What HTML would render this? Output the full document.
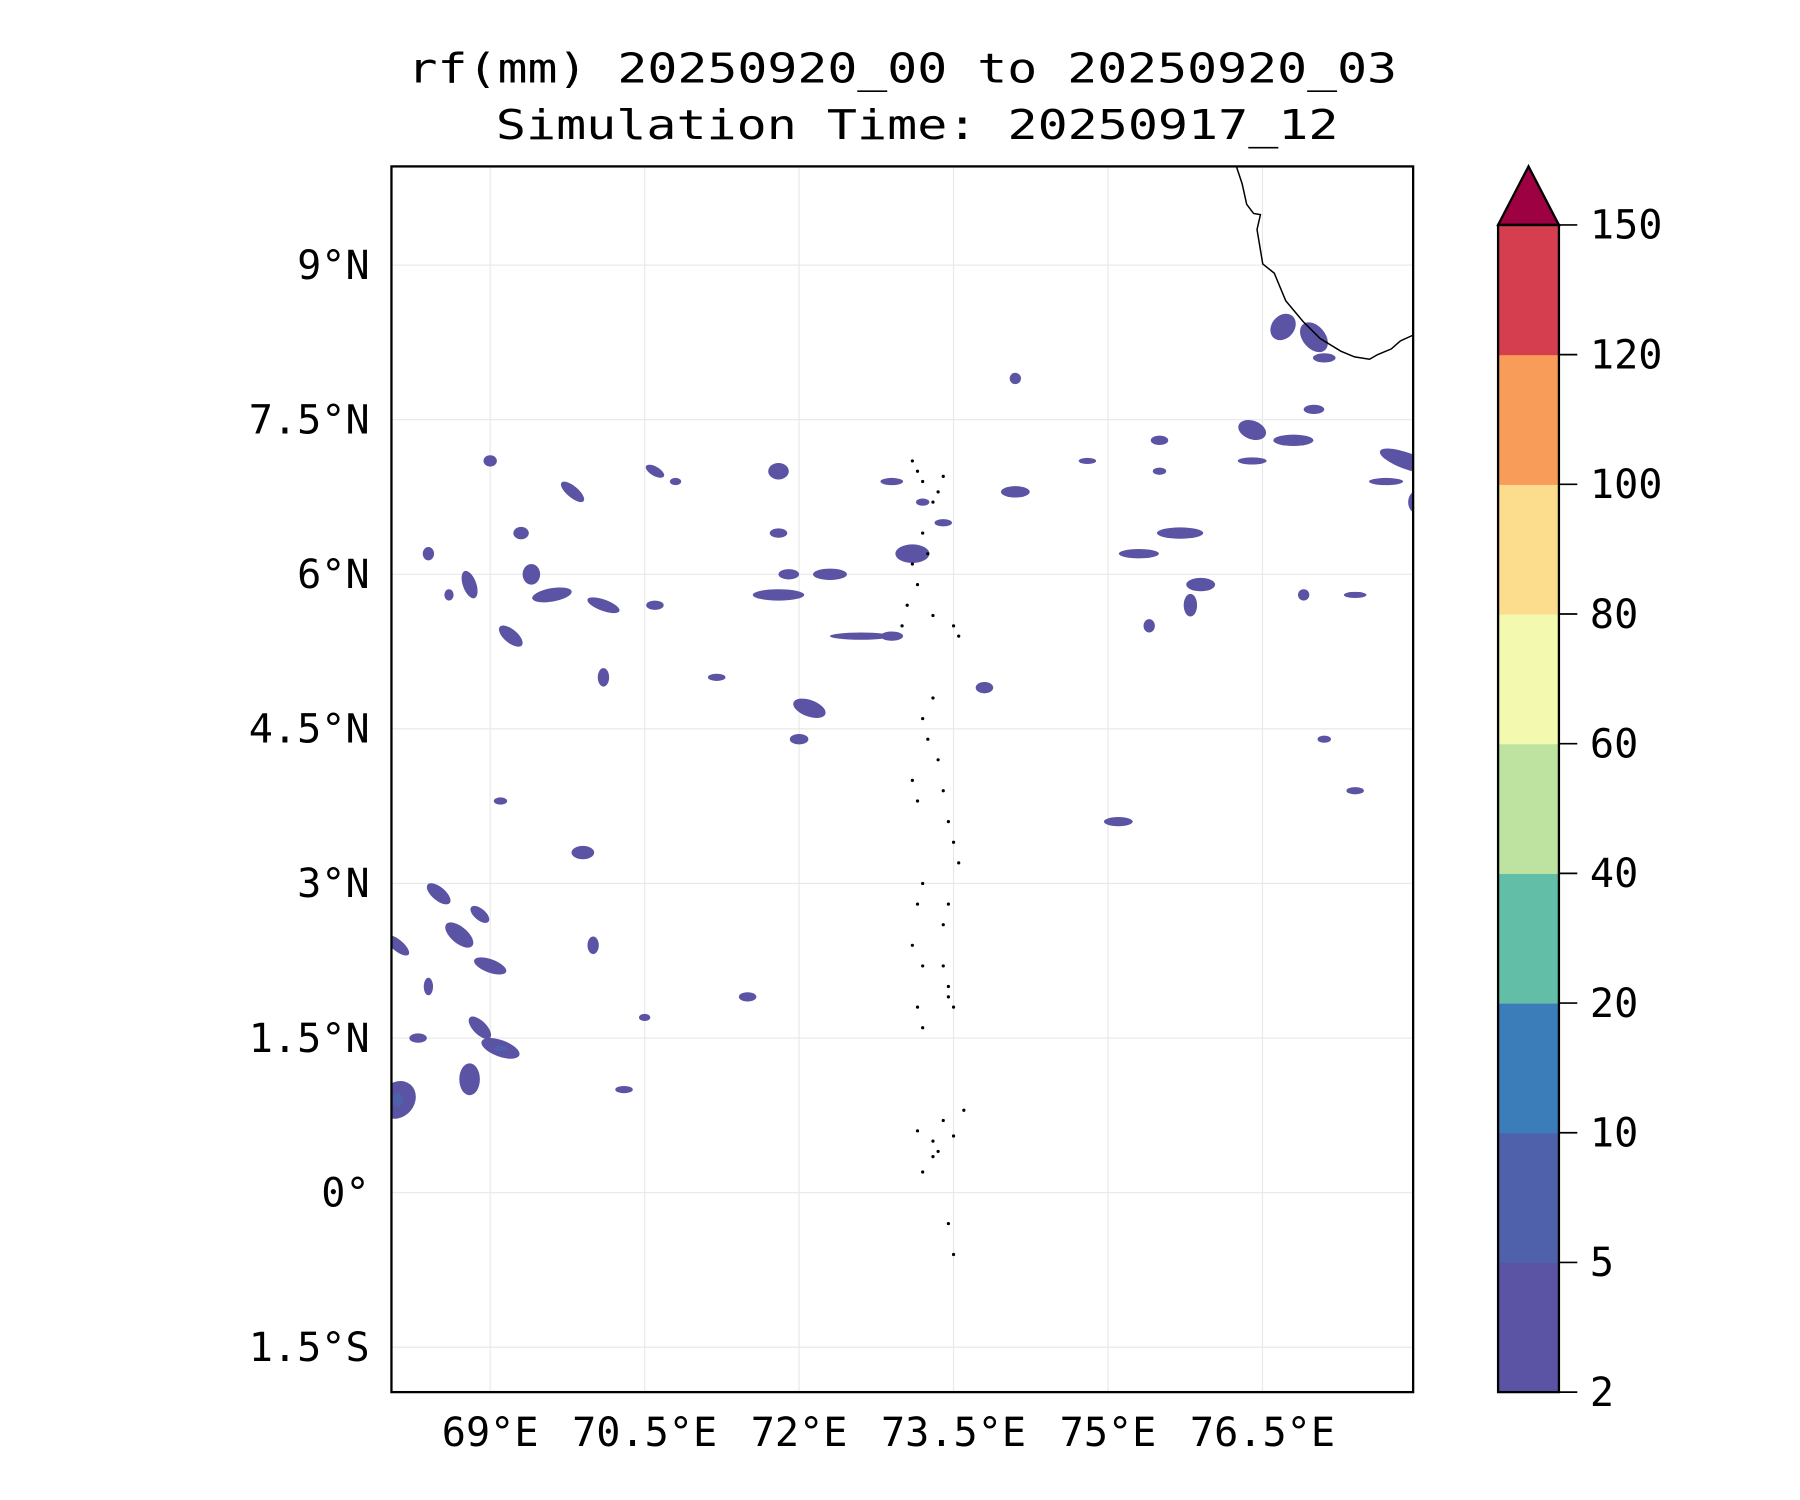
<!DOCTYPE html>
<html><head><meta charset="utf-8"><style>
html,body{margin:0;padding:0;background:#fff;}
svg{display:block;font-family:"DejaVu Sans Mono","Liberation Mono",monospace;}
</style></head><body>
<svg id="chart" width="1800" height="1500" viewBox="0 0 1568 1307" preserveAspectRatio="none" xmlns="http://www.w3.org/2000/svg">
<rect width="1568" height="1307" fill="#fff"/>
<text x="786" y="72" font-size="36" text-anchor="middle" textLength="862" lengthAdjust="spacingAndGlyphs">rf(mm) 20250920_00 to 20250920_03</text>
<text x="799" y="121" font-size="36" text-anchor="middle" textLength="734" lengthAdjust="spacingAndGlyphs">Simulation Time: 20250917_12</text>
<g id="grid"></g>
<g id="blobs"></g>
<g id="coast"></g>
<rect x="341" y="145" width="890" height="1068" fill="none" stroke="#000" stroke-width="2"/>
<g id="axes"></g>
<g id="cbar"></g>
</svg>
<script>
const lonTicks=[69,70.5,72,73.5,75,76.5];
const lonLabels=["69°E","70.5°E","72°E","73.5°E","75°E","76.5°E"];
const latTicks=[9,7.5,6,4.5,3,1.5,0,-1.5];
const latLabels=["9°N","7.5°N","6°N","4.5°N","3°N","1.5°N","0°","1.5°S"];
const cbLevels=[2,5,10,20,40,60,80,100,120,150];
const cbColors=["#5b53a4","#4f61aa","#3a7db8","#62bea6","#bee3a0","#f3f9ae","#fbdd8d","#f89d59","#d53e4f"];
// rain patches: [lon, lat, widthDeg, heightDeg, rotation, level]
const patchLon=[67.6,68.5,68.7,69.0,68.9,68.1,68.4,68.9,69.1,68.8,68.1,68.3,70.0,69.9,71.5,68.8,69.2,69.6,70.1,69.4,69.8,69.0,68.4,68.6,70.1,70.6,70.8,71.8,71.8,72.3,72.1,72.6,72.9,73.1,72.9,73.2,71.8,70.6,71.2,73.4,74.1,74.1,73.8,75.9,75.8,75.7,75.3,75.6,76.7,77.0,77.1,76.4,76.8,77.9,78.3,78.0,78.2,77.7,78.4,76.4,75.5,77.0,75.1,77.4,77.1,77.4,76.9,75.4,75.5,74.8,67.4,67.9,70.3,70.5,67.7,69.1,69.3,72.0,71.9];
const patchLat=[3.0,2.9,2.5,2.2,2.7,2.4,2.0,1.6,1.4,1.1,0.9,1.5,2.4,3.3,1.9,5.9,5.4,5.8,5.7,6.0,6.8,7.1,6.2,5.8,5.0,7.0,6.9,7.0,5.8,6.0,4.7,5.4,5.4,6.2,6.9,6.7,6.4,5.7,5.0,6.5,6.8,7.9,4.9,5.9,5.7,6.4,6.2,6.4,8.4,8.3,8.1,7.4,7.3,7.1,7.1,6.7,6.8,6.9,6.1,7.1,7.3,7.6,3.6,3.9,4.4,5.8,5.8,5.5,7.0,7.1,4.2,0.7,1.0,1.7,4.8,3.8,6.4,4.4,6.0];
const patchW=[0.33,0.28,0.33,0.33,0.22,0.28,0.09,0.28,0.39,0.2,0.33,0.17,0.11,0.22,0.17,0.13,0.28,0.39,0.33,0.17,0.28,0.13,0.11,0.09,0.11,0.2,0.11,0.2,0.5,0.33,0.33,0.6,0.22,0.33,0.22,0.13,0.17,0.17,0.17,0.17,0.28,0.11,0.17,0.28,0.13,0.45,0.39,0.17,0.22,0.22,0.22,0.28,0.39,0.55,0.22,0.17,0.28,0.33,0.11,0.28,0.17,0.2,0.28,0.17,0.13,0.22,0.11,0.11,0.13,0.17,0.11,0.17,0.17,0.11,0.11,0.13,0.15,0.18,0.2];
const patchH=[0.44,0.13,0.16,0.13,0.11,0.11,0.17,0.13,0.16,0.31,0.39,0.09,0.17,0.13,0.09,0.28,0.13,0.13,0.11,0.2,0.11,0.11,0.13,0.11,0.18,0.09,0.07,0.16,0.11,0.11,0.16,0.07,0.09,0.18,0.07,0.07,0.09,0.09,0.07,0.07,0.11,0.11,0.11,0.13,0.22,0.11,0.09,0.09,0.28,0.33,0.09,0.18,0.11,0.16,0.11,0.22,0.11,0.07,0.18,0.07,0.09,0.09,0.09,0.07,0.07,0.06,0.11,0.13,0.07,0.06,0.2,0.13,0.07,0.07,0.09,0.07,0.12,0.1,0.1];
const patchRot=[-40,40,40,20,40,40,0,45,20,0,40,0,0,0,0,-20,40,-10,20,0,40,0,0,0,0,30,0,0,0,0,20,0,0,0,0,0,0,0,0,0,0,0,0,0,0,0,0,0,40,-40,0,20,0,20,0,0,0,0,0,0,0,0,0,0,0,0,0,0,0,0,0,0,0,0,0,0,0,0,0];
const patchLvl=[0,0,0,0,0,0,0,0,1,0,1,0,0,0,0,0,0,0,0,0,0,0,0,0,0,0,0,0,0,0,0,0,0,0,0,0,0,0,0,0,0,0,0,0,0,0,0,0,0,0,0,0,0,0,0,0,0,0,0,0,0,0,0,0,0,0,0,0,0,0,0,0,0,0,0,0,0,0,0];
// island dots [lon, lat]
const islandLon=[73.1,73.15,73.2,73.4,73.35,73.3,73.2,73.25,73.1,73.15,73.05,73.0,73.5,73.55,73.3,73.3,73.2,73.25,73.35,73.1,73.15,73.4,73.45,73.5,73.55,73.2,73.15,73.45,73.4,73.1,73.2,73.4,73.45,73.15,73.2,73.5,73.45,73.6,73.35,73.3,73.3,73.15,73.2,73.4,73.5,73.45,73.5];
const islandLat=[7.1,7.0,6.9,6.95,6.8,6.7,6.4,6.2,6.1,5.9,5.7,5.5,5.5,5.4,5.6,4.8,4.6,4.4,4.2,4.0,3.8,3.9,3.6,3.4,3.2,3.0,2.8,2.8,2.6,2.4,2.2,2.2,1.9,1.8,1.6,1.8,2.0,0.8,0.4,0.5,0.35,0.6,0.2,0.7,0.55,-0.3,-0.6];
const lon0=69, lonPx=427, pxPerDeg=89.7;
const lat0=9, latPx=231, pxPerDegY=89.8;
function xs(lon){return lonPx+(lon-lon0)*pxPerDeg;}
function ys(lat){return latPx-(lat-lat0)*pxPerDegY;}
const NS="http://www.w3.org/2000/svg";
function mk(tag,attrs,parent){const e=document.createElementNS(NS,tag);for(const k in attrs)e.setAttribute(k,attrs[k]);parent.appendChild(e);return e;}
const grid=document.getElementById('grid'),axes=document.getElementById('axes');
lonTicks.forEach((v,i)=>{
  const g=mk('line',{x1:xs(v),x2:xs(v),y1:145,y2:1213,stroke:'#e8e8e8','stroke-width':1},grid);
  
  
  const t=mk('text',{x:xs(v),y:1260,'font-size':35,'text-anchor':'middle'},axes);
  t.textContent=lonLabels[i];
  
  
});
latTicks.forEach((v,i)=>{
  const g=mk('line',{x1:341,x2:1231,y1:ys(v),y2:ys(v),stroke:'#e8e8e8','stroke-width':1},grid);
  
  
  const t=mk('text',{x:322,y:ys(v)+12,'font-size':35,'text-anchor':'end'},axes);
  t.textContent=latLabels[i];
  
  
});
const blobs=document.getElementById('blobs');
mk('clipPath',{id:'clipmap'},blobs);
blobs.lastChild.appendChild(document.createElementNS(NS,'rect'));
const cr=blobs.lastChild.lastChild;cr.setAttribute('x',341);cr.setAttribute('y',145);cr.setAttribute('width',890);cr.setAttribute('height',1068);
blobs.setAttribute('clip-path','url(#clipmap)');
for(let i=0;i<patchLon.length;i++){
  const cx=xs(patchLon[i]),cy=ys(patchLat[i]);
  const e=mk('ellipse',{cx:cx,cy:cy,rx:patchW[i]*pxPerDeg/2,ry:patchH[i]*pxPerDegY/2,fill:cbColors[0],transform:`rotate(${patchRot[i]} ${cx} ${cy})`},blobs);
  
  
  if(patchLvl[i]>0){
    const c=mk('ellipse',{cx:cx,cy:cy,rx:patchW[i]*pxPerDeg/6,ry:patchH[i]*pxPerDegY/6,fill:cbColors[1]},blobs);
    
    
  }
}
const coast=document.getElementById('coast');
const cp=mk('path',{d:'M1077,145 L1082,160 L1086,178 L1092,186 L1098,187 L1095,200 L1100,230 L1110,238 L1120,262 L1135,280 L1150,295 L1168,306 L1180,311 L1193,313 L1200,309 L1212,304 L1220,297 L1231,292',fill:'none',stroke:'#000','stroke-width':1.3},coast);


for(let i=0;i<islandLon.length;i++){
  const d=mk('circle',{cx:xs(islandLon[i]),cy:ys(islandLat[i]),r:1.4,fill:'#000'},coast);
  
  
}
const cbar=document.getElementById('cbar');
const cbTop=196,cbBot=1213,cbX=1305,cbW=53;
const step=(cbBot-cbTop)/(cbLevels.length-1);
for(let i=0;i<cbColors.length;i++){
  const r=mk('rect',{x:cbX,y:cbBot-(i+1)*step,width:cbW,height:step+0.5,fill:cbColors[i]},cbar);
  
  
}
const tri=mk('polygon',{points:`${cbX},${cbTop} ${cbX+cbW/2},145 ${cbX+cbW},${cbTop}`,fill:'#9e0142',stroke:'#000','stroke-width':2},cbar);


mk('rect',{x:cbX,y:cbTop,width:cbW,height:cbBot-cbTop,fill:'none',stroke:'#000','stroke-width':2},cbar);
cbLevels.forEach((v,i)=>{
  const y=cbBot-i*step;
  mk('line',{x1:cbX+cbW,x2:cbX+cbW+16,y1:y,y2:y,stroke:'#000','stroke-width':1.5},cbar);
  const t=mk('text',{x:1385,y:y+12,'font-size':35},cbar);
  t.textContent=String(v);
  
  
});
</script>
</body></html>
